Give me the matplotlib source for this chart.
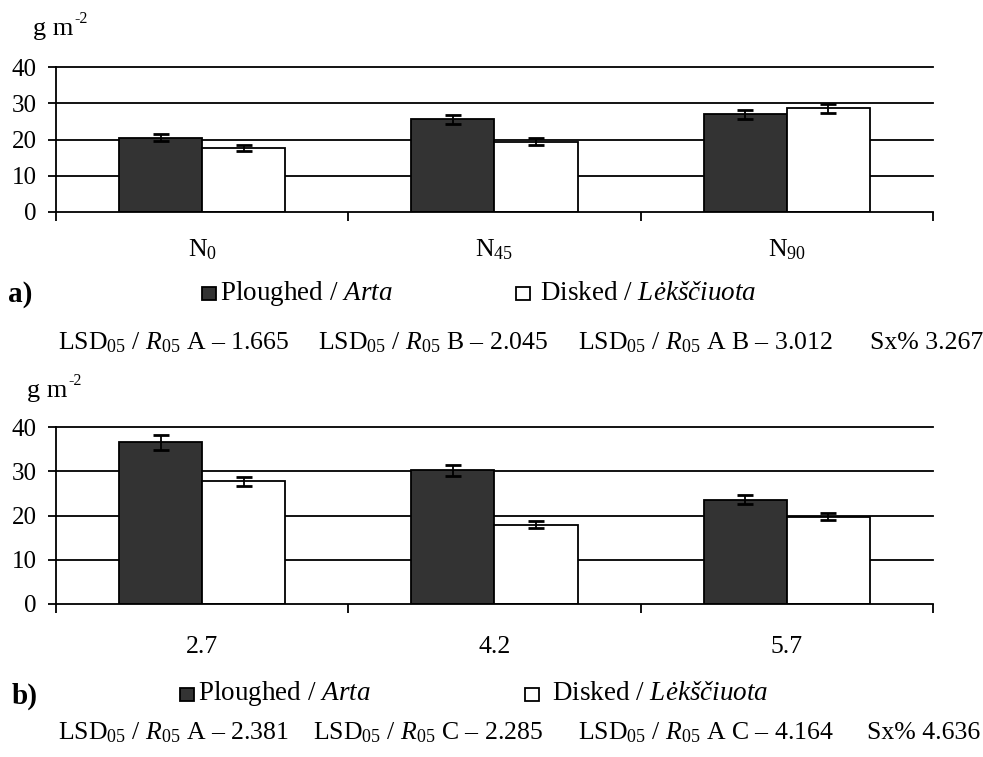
import matplotlib.pyplot as plt
import numpy as np

plt.rcParams['font.family'] = ['Liberation Serif', 'DejaVu Serif']
plt.rcParams['mathtext.fontset'] = 'custom'
plt.rcParams['mathtext.rm'] = 'Liberation Serif'
plt.rcParams['mathtext.it'] = 'Liberation Serif:italic'
plt.rcParams['mathtext.bf'] = 'Liberation Serif:bold'

# panel a) - nitrogen rate
cats_a = ['N$_0$', 'N$_{45}$', 'N$_{90}$']
plough_a = [20.5, 25.6, 26.9]
disk_a = [17.6, 19.4, 28.6]
plough_a_err = [0.9, 1.2, 1.3]
disk_a_err = [0.8, 0.9, 1.2]

# panel b) - soil pH
cats_b = ['2.7', '4.2', '5.7']
plough_b = [36.5, 30.2, 23.6]
disk_b = [27.7, 17.9, 19.7]
plough_b_err = [1.6, 1.3, 1.1]
disk_b_err = [1.1, 0.8, 0.8]

yticks = [0, 10, 20, 30, 40]

R05 = '$\\mathit{R}_{\\mathit{05}}$'
lsd_a = ['LSD$_{05}$ / ' + R05 + ' A – 1.665', 'LSD$_{05}$ / ' + R05 + ' B – 2.045',
         'LSD$_{05}$ / ' + R05 + ' A B – 3.012', 'Sx% 3.267']
lsd_b = ['LSD$_{05}$ / ' + R05 + ' A – 2.381', 'LSD$_{05}$ / ' + R05 + ' C – 2.285',
         'LSD$_{05}$ / ' + R05 + ' A C – 4.164', 'Sx% 4.636']
leg_labels = ['Ploughed / $\\mathit{Arta}$', 'Disked / $\\mathit{Lėkščiuota}$']
leg_colors = ['#333333', 'white']

W, H = 983, 757
fig = plt.figure(figsize=(W / 100, H / 100), dpi=100)

def px(x, y):
    return x / W, 1 - y / H

def panel(top, bottom, cats, p, d, pe, de, lpad):
    ax = fig.add_axes([56 / W, 1 - bottom / H, 877 / W, (bottom - top) / H])
    x = np.arange(len(cats))
    w = 0.285
    for yv in yticks[1:]:
        ax.axhline(yv, color='black', lw=1.3, zorder=0, clip_on=False)
    ax.bar(x - w / 2, p, w, color=leg_colors[0], edgecolor='black', lw=1.3, zorder=2)
    ax.bar(x + w / 2, d, w, color=leg_colors[1], edgecolor='black', lw=1.3, zorder=2)
    ax.errorbar(x - w / 2, p, yerr=pe, fmt='none', ecolor='black', elinewidth=1.3,
                capsize=6, capthick=2, zorder=3)
    ax.errorbar(x + w / 2, d, yerr=de, fmt='none', ecolor='black', elinewidth=1.3,
                capsize=6, capthick=2, zorder=3)
    ax.set_xlim(-0.5, len(cats) - 0.5)
    ax.set_ylim(0, 40)
    ax.set_yticks(yticks)
    ax.set_xticks(x)
    ax.set_xticklabels(cats)
    ax.set_xticks(np.arange(len(cats) + 1) - 0.5, minor=True)
    ax.tick_params(axis='x', which='major', length=0, pad=lpad, labelsize=18.5)
    ax.tick_params(axis='x', which='minor', length=6.5, width=1.3, direction='out')
    ax.tick_params(axis='y', length=5.8, width=1.3, labelsize=18, pad=8)
    for s in ['top', 'right']:
        ax.spines[s].set_visible(False)
    for s in ['left', 'bottom']:
        ax.spines[s].set_linewidth(1.3)
    return ax

panel(67, 212, cats_a, plough_a, disk_a, plough_a_err, disk_a_err, 18)
panel(427, 604, cats_b, plough_b, disk_b, plough_b_err, disk_b_err, 23)

# unit labels
def unit(x, ybase):
    fig.text(*px(x, ybase), 'g m', fontsize=19, va='baseline', ha='left')
    fig.text(*px(x + 41, ybase - 12), '-2', fontsize=11.5, va='baseline', ha='left')

unit(33, 35)
unit(27, 397)

# legends and panel letters
def legend_row(y, letter, lx, xs, txs):
    fig.text(*px(lx, y + 2), letter, fontsize=21, fontweight='bold', va='center')
    for xx, tx, lab, c in zip(xs, txs, leg_labels, leg_colors):
        fx, fy = px(xx, y + 7)
        fig.patches.append(plt.Rectangle((fx, fy), 14 / W, 13 / H, transform=fig.transFigure,
                                         facecolor=c, edgecolor='black', lw=1.3))
        fig.text(*px(tx, y), lab, fontsize=19.5, va='center', ha='left')

legend_row(293, 'a)', 8, [202, 516], [220, 540])
legend_row(694, 'b)', 12, [180, 525], [198, 552])

for xx, s in zip([58, 318, 578, 870], lsd_a):
    fig.text(*px(xx, 343), s, fontsize=18.5, va='center', ha='left')
for xx, s in zip([58, 313, 578, 867], lsd_b):
    fig.text(*px(xx, 733), s, fontsize=18.5, va='center', ha='left')

fig.savefig('out.png', dpi=100)
